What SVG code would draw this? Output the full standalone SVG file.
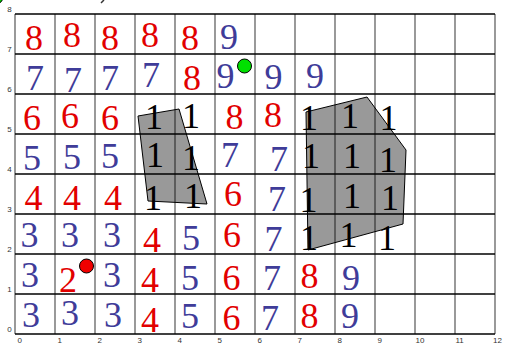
<svg xmlns="http://www.w3.org/2000/svg" width="506" height="344" viewBox="0 0 506 344">
<style>
.h{stroke:#000;stroke-width:1.3}
.v{stroke:#808080;stroke-width:1.6}
.t{font-family:"Liberation Sans",Arial,sans-serif;font-size:8px;fill:#333}
.ty{text-anchor:middle}
.d{font-family:"Liberation Serif","Times New Roman",serif;font-size:36px;text-anchor:middle}
.r{fill:#e20000}
.b{fill:#3f3c99}
.k{fill:#000}
.poly{fill:#000;fill-opacity:0.4;stroke:#000;stroke-width:1}
.dot{stroke:#000;stroke-width:1}
</style>
<rect width="506" height="344" fill="#fff"/>
<circle cx="-4" cy="-3" r="7" fill="#00e000" stroke="#000"/>
<line x1="104" y1="0" x2="101" y2="3" stroke="#333" stroke-width="1.5"/>
<g id="grid">
<g id="vlines">
<line class="v" x1="15" y1="14" x2="15" y2="334"/>
<line class="v" x1="55" y1="14" x2="55" y2="334"/>
<line class="v" x1="95" y1="14" x2="95" y2="334"/>
<line class="v" x1="135" y1="14" x2="135" y2="334"/>
<line class="v" x1="175" y1="14" x2="175" y2="334"/>
<line class="v" x1="215" y1="14" x2="215" y2="334"/>
<line class="v" x1="255" y1="14" x2="255" y2="334"/>
<line class="v" x1="295" y1="14" x2="295" y2="334"/>
<line class="v" x1="335" y1="14" x2="335" y2="334"/>
<line class="v" x1="375" y1="14" x2="375" y2="334"/>
<line class="v" x1="415" y1="14" x2="415" y2="334"/>
<line class="v" x1="455" y1="14" x2="455" y2="334"/>
<line class="v" x1="495" y1="14" x2="495" y2="334"/>
</g>
<g id="hlines">
<line class="h" x1="15" y1="14" x2="495" y2="14"/>
<line class="h" x1="15" y1="54" x2="495" y2="54"/>
<line class="h" x1="15" y1="94" x2="495" y2="94"/>
<line class="h" x1="15" y1="134" x2="495" y2="134"/>
<line class="h" x1="15" y1="174" x2="495" y2="174"/>
<line class="h" x1="15" y1="214" x2="495" y2="214"/>
<line class="h" x1="15" y1="254" x2="495" y2="254"/>
<line class="h" x1="15" y1="294" x2="495" y2="294"/>
<line class="h" x1="15" y1="334" x2="495" y2="334"/>
</g>
<g id="xticks" class="t">
<text x="17.5" y="343">0</text>
<text x="57.5" y="343">1</text>
<text x="97.5" y="343">2</text>
<text x="137.5" y="343">3</text>
<text x="177.5" y="343">4</text>
<text x="217.5" y="343">5</text>
<text x="257.5" y="343">6</text>
<text x="297.5" y="343">7</text>
<text x="337.5" y="343">8</text>
<text x="377.5" y="343">9</text>
<text x="415.5" y="343">10</text>
<text x="455.5" y="343">11</text>
<text x="493" y="343">12</text>
</g>
<g id="yticks" class="t ty">
<text x="9.5" y="11.5">8</text>
<text x="9.5" y="51.5">7</text>
<text x="9.5" y="91.5">6</text>
<text x="9.5" y="131.5">5</text>
<text x="9.5" y="171.5">4</text>
<text x="9.5" y="211.5">3</text>
<text x="9.5" y="251.5">2</text>
<text x="9.5" y="291.5">1</text>
<text x="9.5" y="331.5">0</text>
</g>
</g>
<g id="regions">
<polygon id="region1" class="poly" points="138,116 179,109 207,204 148,201"/>
<polygon id="region2" class="poly" points="306,112 367,97 406,150 403,224 308,250"/>
</g>
<g id="values" class="d">
<g id="row7">
<text class="r" x="34" y="50">8</text>
<text class="r" x="72" y="47">8</text>
<text class="r" x="110" y="50">8</text>
<text class="r" x="150" y="47">8</text>
<text class="r" x="190" y="50">8</text>
<text class="b" x="229" y="49">9</text>
</g>
<g id="row6">
<text class="b" x="35" y="90">7</text>
<text class="b" x="73" y="92">7</text>
<text class="b" x="110" y="90">7</text>
<text class="b" x="151" y="87">7</text>
<text class="r" x="192" y="90">8</text>
<text class="b" x="225.5" y="88">9</text>
<text class="b" x="273.5" y="89">9</text>
<text class="b" x="315" y="88">9</text>
</g>
<g id="row5">
<text class="r" x="32" y="130">6</text>
<text class="r" x="70" y="128">6</text>
<text class="r" x="110" y="130">6</text>
<text class="k" x="154" y="129">1</text>
<text class="k" x="191" y="128">1</text>
<text class="r" x="234.5" y="129">8</text>
<text class="r" x="273" y="127">8</text>
<text class="k" x="309" y="130">1</text>
<text class="k" x="350" y="128">1</text>
<text class="k" x="388.5" y="130">1</text>
</g>
<g id="row4">
<text class="b" x="32" y="170">5</text>
<text class="b" x="72" y="169">5</text>
<text class="b" x="110" y="168">5</text>
<text class="k" x="155" y="167">1</text>
<text class="k" x="191" y="170">1</text>
<text class="b" x="230" y="167">7</text>
<text class="b" x="279" y="171">7</text>
<text class="k" x="311" y="168">1</text>
<text class="k" x="352" y="168">1</text>
<text class="k" x="388" y="172">1</text>
</g>
<g id="row3">
<text class="r" x="33.5" y="210">4</text>
<text class="r" x="72" y="210">4</text>
<text class="r" x="113" y="210">4</text>
<text class="k" x="153" y="210">1</text>
<text class="k" x="193" y="208">1</text>
<text class="r" x="233" y="206">6</text>
<text class="b" x="277" y="211">7</text>
<text class="k" x="308.5" y="212">1</text>
<text class="k" x="352" y="208">1</text>
<text class="k" x="390" y="210">1</text>
</g>
<g id="row2">
<text class="b" x="29.5" y="247">3</text>
<text class="b" x="70" y="247">3</text>
<text class="b" x="112" y="247">3</text>
<text class="r" x="152" y="252">4</text>
<text class="b" x="191" y="250">5</text>
<text class="r" x="232" y="247">6</text>
<text class="b" x="273.5" y="251">7</text>
<text class="k" x="309" y="250">1</text>
<text class="k" x="348.5" y="247">1</text>
<text class="k" x="387" y="250">1</text>
</g>
<g id="row1">
<text class="b" x="30" y="287">3</text>
<text class="r" x="68" y="292">2</text>
<text class="b" x="112" y="287">3</text>
<text class="r" x="150" y="292">4</text>
<text class="b" x="190" y="290">5</text>
<text class="r" x="231.5" y="290">6</text>
<text class="b" x="272" y="290">7</text>
<text class="r" x="309.5" y="288">8</text>
<text class="b" x="351" y="290">9</text>
</g>
<g id="row0">
<text class="b" x="31" y="327">3</text>
<text class="b" x="70" y="325">3</text>
<text class="b" x="113" y="327">3</text>
<text class="r" x="150" y="332">4</text>
<text class="b" x="190" y="328">5</text>
<text class="r" x="231.5" y="330">6</text>
<text class="b" x="270" y="330">7</text>
<text class="r" x="309.5" y="328">8</text>
<text class="b" x="350" y="328">9</text>
</g>
</g>
<g id="markers">
<circle id="red-dot" class="dot" cx="86.5" cy="266" r="7" fill="#f00000"/>
<circle id="green-dot" class="dot" cx="244.5" cy="66" r="7" fill="#00e000"/>
</g>
</svg>
